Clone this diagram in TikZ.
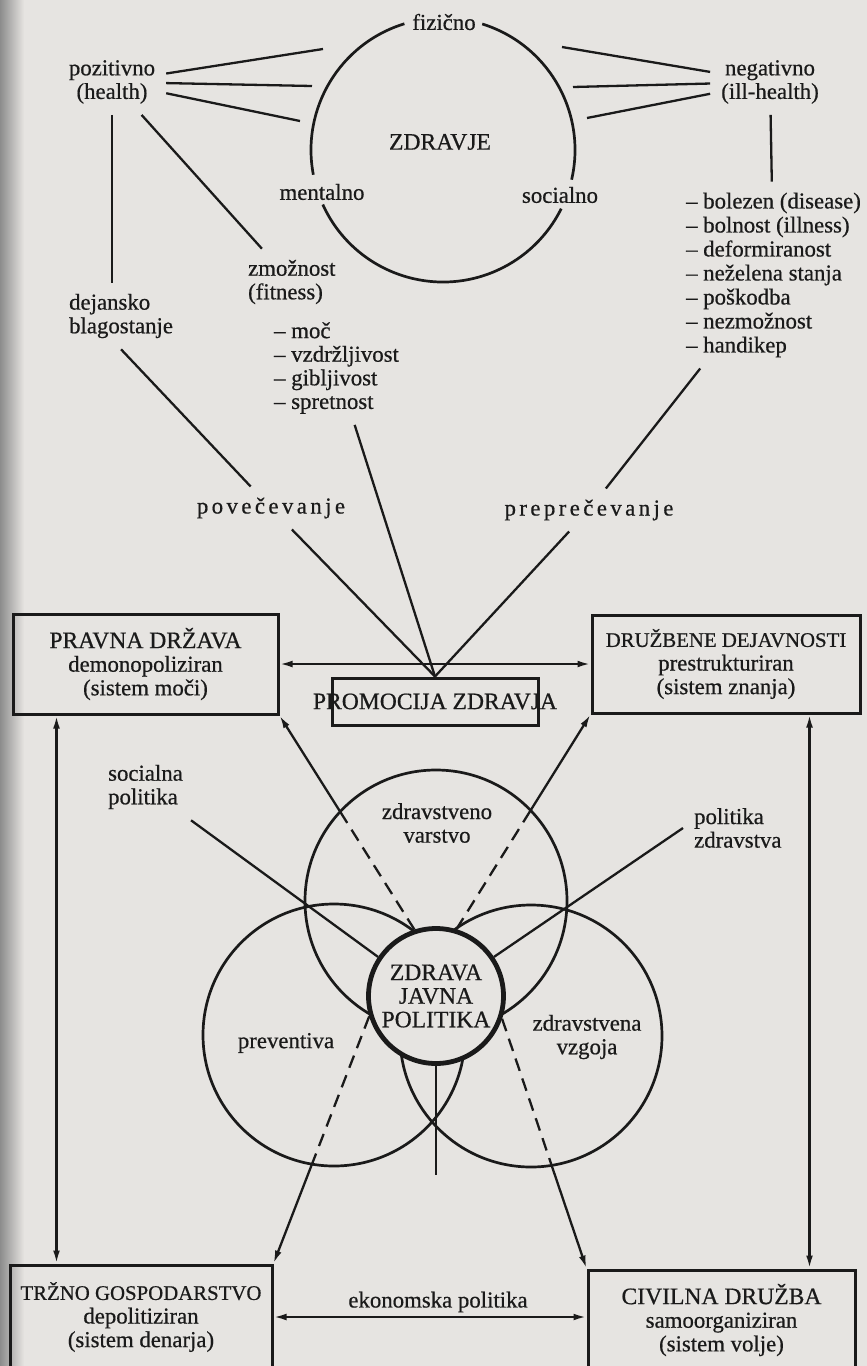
\documentclass[tikz,border=0pt]{standalone}
\usepackage{fontspec}
\setmainfont[FakeBold=0.6]{Liberation Serif}
\newfontfamily\spaced[LetterSpace=15, FakeBold=0.6]{Liberation Serif}
\usetikzlibrary{arrows.meta, intersections}
\definecolor{paper}{HTML}{E6E4E1}
\definecolor{ink}{HTML}{1A1A1A}
\newcommand\boxhead[2][11.8]{{\fontsize{#1}{11.8}\selectfont #2}}

\begin{document}
\begin{tikzpicture}[x=0.5pt, y=-0.5pt, ink, line width=1.15pt,
    >={Latex[length=6.5pt,width=3.4pt]},
    every node/.style={font=\fontsize{11.4}{11.8}\selectfont, inner sep=5pt, text=ink},
    lab/.style={align=center},
    lst/.style={align=left, anchor=west},
    box/.style={draw, line width=1.5pt, align=center, inner sep=0pt},
    ring/.style={line width=1.35pt},
    dashline/.style={dashed, dash pattern=on 6.5pt off 4pt}]
    \useasboundingbox (0,0) rectangle (867,1366);
    \clip (0,0) rectangle (867,1366);
    \fill[paper] (0,0) rectangle (867,1366);
    \shade[left color=black!45, right color=paper] (0,0) rectangle (24,1366);

    \coordinate (zc) at (443,150);
    \draw[ring] ([shift={(107:66pt)}]zc) arc[start angle=107, end angle=190.8, radius=66pt];
    \draw[ring] ([shift={(204.4:66pt)}]zc) arc[start angle=204.4, end angle=333.6, radius=66pt];
    \draw[ring] ([shift={(-13:66pt)}]zc) arc[start angle=-13, end angle=72.7, radius=66pt];
    \node (zdravje) at (440,142) {\boxhead{ZDRAVJE}};
    \node (fiz) at (444,22) {fizično};
    \node (ment) at (322,192) {mentalno};
    \node (soc) at (560,195) {socialno};

    \node[lab] (poz) at (112,82) {pozitivno\\(health)};
    \node[lab] (neg) at (770,82) {negativno\\(ill-health)};
    \node[lst] (dej) at (58,316) {dejansko\\blagostanje};
    \node[lst] (fit) at (237,282) {zmožnost\\(fitness)};
    \node[lst] (fitlist) at (263,368) {-- moč\\-- vzdržljivost\\-- gibljivost\\-- spretnost};
    \node[lst, font=\fontsize{11.4}{12}\selectfont] (illlist) at (675,275) {-- bolezen (disease)\\-- bolnost (illness)\\-- deformiranost\\-- neželena stanja\\-- poškodba\\-- nezmožnost\\-- handikep};
    \node (pov) at (271,508) {\spaced povečevanje};
    \node (prep) at (589,510) {\spaced preprečevanje};

    \coordinate (p1) at (323,49);
    \coordinate (p2) at (312,86);
    \coordinate (p3) at (300,121);
    \coordinate (n1) at (562,47);
    \coordinate (n2) at (573,87);
    \coordinate (n3) at (587,118);
    \draw (poz) -- (p1);
    \draw (poz) -- (p2);
    \draw (poz) -- (p3);
    \draw (neg) -- (n1);
    \draw (neg) -- (n2);
    \draw (neg) -- (n3);
    \draw (poz.south) -- (poz.south |- dej.north);
    \draw (poz) -- (fit);
    \draw (neg) -- (illlist);

    \node[box, minimum width=132.5pt, minimum height=50pt] (pravna) at (145.5,664) {\boxhead{PRAVNA DRŽAVA}\\demonopoliziran\\(sistem moči)};
    \node[box, minimum width=134pt, minimum height=49pt] (druzbene) at (726,664) {\boxhead[10.4]{DRUŽBENE DEJAVNOSTI}\\prestrukturiran\\(sistem znanja)};
    \node[box, minimum width=103pt, minimum height=23.5pt] (promo) at (435,701.5) {\makebox[0pt]{\boxhead{PROMOCIJA ZDRAVJA}}};
    \node[box, minimum width=131pt, minimum height=52pt] (trzno) at (141,1317) {\boxhead[10.4]{TRŽNO GOSPODARSTVO}\\depolitiziran\\(sistem denarja)};
    \node[box, minimum width=133.5pt, minimum height=50pt] (civilna) at (721.5,1320) {\boxhead{CIVILNA DRUŽBA}\\samoorganiziran\\(sistem volje)};

    \draw (dej.south) -- (pov);
    \draw (pov) -- (promo.north);
    \draw (fitlist) -- (promo.north);
    \draw (illlist) -- (prep);
    \draw (prep) -- (promo.north);
    \draw[<->] (pravna.east) -- (druzbene.west);
    \draw[<->] ([xshift=22.5pt]pravna.south west) -- ([xshift=22.5pt]pravna.south west |- trzno.north);
    \draw[<->] ([xshift=-26pt]druzbene.south east) -- ([xshift=-26pt]druzbene.south east |- civilna.north);
    \draw[<->] (trzno.east) -- (trzno.east -| civilna.west);
    \node (ekon) at (438,1302) {ekonomska politika};

    \draw[ring, name path=varstvo] (436,901) circle[radius=65.5pt];
    \draw[ring, name path=preventiva] (334,1035) circle[radius=65.5pt];
    \draw[ring, name path=vzgoja] (531,1036) circle[radius=65.5pt];
    \node[lab] (lvarstvo) at (437,823) {zdravstveno\\varstvo};
    \node (lprev) at (286,1043) {preventiva};
    \node[lab] (lvzgoja) at (587,1037) {zdravstvena\\vzgoja};
    \node[circle, draw, line width=2.4pt, fill=paper, minimum size=67.5pt, inner sep=0pt, align=center] (jp) at (436,996) {\boxhead{ZDRAVA}\\\boxhead{JAVNA}\\\boxhead{POLITIKA}};

    \node[lst] (socpol) at (97,787) {socialna\\politika};
    \node[lst] (polzdr) at (683,828) {politika\\zdravstva};
    \draw (socpol) -- (jp.146);
    \draw (polzdr.west) -- (jp.34);
    \coordinate (vend) at (436,1175);
    \draw (jp.south) -- (vend);

    \path[name path=la] (jp.108) -- (pravna.south east);
    \path[name path=lb] (jp.73) -- (druzbene.south west);
    \path[name path=lc] (jp.197) -- (trzno.north east);
    \path[name path=ld] (jp.341) -- (civilna.north west);
    \path[name intersections={of=la and varstvo, by=xa}];
    \path[name intersections={of=lb and varstvo, by=xb}];
    \path[name intersections={of=lc and preventiva, by=xc}];
    \path[name intersections={of=ld and vzgoja, by=xd}];
    \draw[dashline] (jp.108) -- (xa);
    \draw[->] (xa) -- (pravna.south east);
    \draw[dashline] (jp.73) -- (xb);
    \draw[->] (xb) -- (druzbene.south west);
    \draw[dashline] (jp.197) -- (xc);
    \draw[->] (xc) -- (trzno.north east);
    \draw[dashline] (jp.341) -- (xd);
    \draw[->] (xd) -- (civilna.north west);
\end{tikzpicture}
\end{document}
